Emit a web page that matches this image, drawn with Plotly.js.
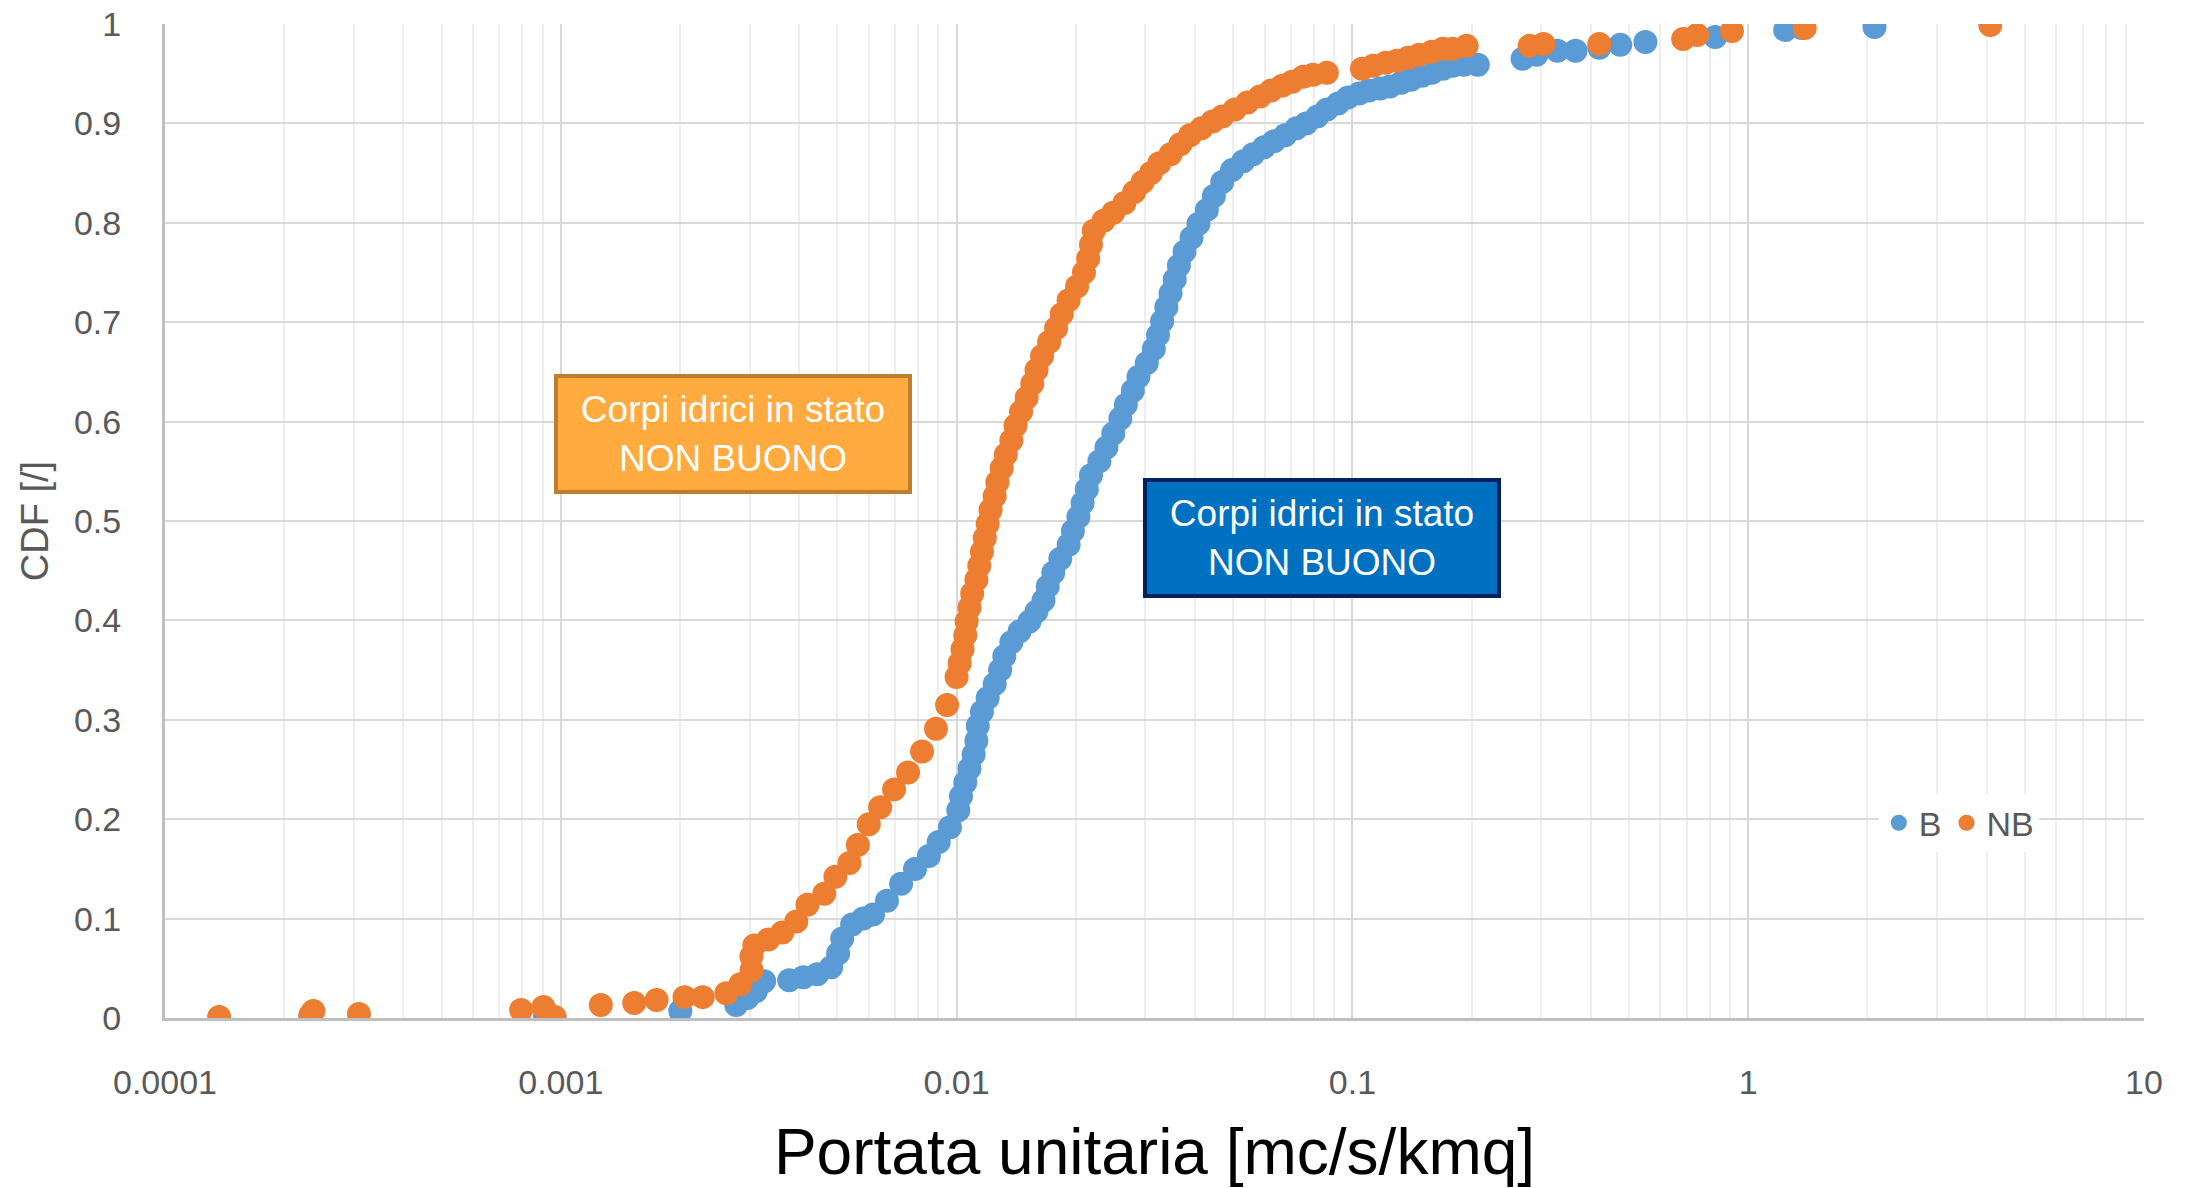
<!DOCTYPE html>
<html>
<head>
<meta charset="utf-8">
<script src="https://cdn.plot.ly/plotly-3.0.1.min.js"></script>
<style>
html,body{margin:0;padding:0;background:#fff;}
#chart{width:2190px;height:1188px;}
</style>
</head>
<body>
<div id="chart"></div>
<script>
// ---- Data ----
const seriesNames = ["B", "NB"];

// NB: "Corpi idrici in stato NON BUONO" (orange)
const nbX = [1.37e-4, 2.33e-4, 2.37e-4, 3.09e-4, 7.94e-4, 9.04e-4, 9.65e-4, 1.262e-3, 1.533e-3, 1.746e-3,
  2.054e-3, 2.283e-3, 2.62e-3, 2.843e-3, 3.034e-3, 3.03e-3, 3.083e-3, 3.344e-3, 3.628e-3, 3.935e-3,
  4.2e-3, 4.63e-3, 4.94e-3, 5.36e-3, 5.63e-3, 6.0e-3, 6.41e-3, 6.95e-3, 7.54e-3, 8.18e-3,
  8.87e-3, 9.46e-3, 1.0e-2, 1.018e-2, 1.035e-2, 1.052e-2, 1.06e-2, 1.078e-2, 1.095e-2, 1.122e-2,
  1.141e-2, 1.159e-2, 1.178e-2, 1.198e-2, 1.218e-2, 1.248e-2, 1.268e-2, 1.3e-2, 1.332e-2, 1.375e-2,
  1.409e-2, 1.455e-2, 1.503e-2, 1.553e-2, 1.592e-2, 1.644e-2, 1.713e-2, 1.784e-2, 1.843e-2, 1.919e-2,
  2.015e-2, 2.098e-2, 2.15e-2, 2.185e-2, 2.221e-2, 2.351e-2, 2.488e-2, 2.655e-2, 2.811e-2, 2.951e-2,
  3.098e-2, 3.253e-2, 3.472e-2, 3.676e-2, 3.89e-2, 4.152e-2, 4.43e-2, 4.69e-2, 5.045e-2, 5.43e-2,
  5.84e-2, 6.23e-2, 6.65e-2, 7.04e-2, 7.51e-2, 7.95e-2, 8.62e-2, 0.1057, 0.1128, 0.1213,
  0.1295, 0.1382, 0.1475, 0.1587, 0.1693, 0.1792, 0.1944, 0.2803, 0.3039, 0.4206,
  0.685, 0.743, 0.91, 1.389, 4.09];
const nbY = [0.001, 0.003, 0.007, 0.004, 0.008, 0.011, 0.001, 0.013, 0.015, 0.018,
  0.021, 0.021, 0.025, 0.034, 0.048, 0.062, 0.073, 0.079, 0.086, 0.097,
  0.114, 0.125, 0.142, 0.156, 0.174, 0.195, 0.212, 0.230, 0.247, 0.268,
  0.291, 0.315, 0.343, 0.357, 0.371, 0.385, 0.399, 0.413, 0.427, 0.441,
  0.455, 0.469, 0.483, 0.497, 0.511, 0.525, 0.539, 0.553, 0.567, 0.581,
  0.596, 0.610, 0.624, 0.638, 0.652, 0.666, 0.680, 0.694, 0.708, 0.722,
  0.736, 0.750, 0.764, 0.778, 0.792, 0.802, 0.810, 0.820, 0.831, 0.841,
  0.850, 0.860, 0.869, 0.879, 0.888, 0.895, 0.902, 0.907, 0.914, 0.921,
  0.927, 0.933, 0.938, 0.942, 0.947, 0.949, 0.951, 0.955, 0.958, 0.961,
  0.963, 0.966, 0.969, 0.972, 0.975, 0.975, 0.978, 0.978, 0.980, 0.980,
  0.985, 0.989, 0.993, 0.996, 0.999];

// B: blue series
const bX = [2.33e-4, 9.12e-4, 2.004e-3, 2.774e-3, 2.96e-3, 3.11e-3, 3.265e-3, 3.777e-3, 4.10e-3, 4.445e-3,
  4.82e-3, 5.02e-3, 5.14e-3, 5.445e-3, 5.81e-3, 6.15e-3, 6.67e-3, 7.24e-3, 7.85e-3, 8.51e-3,
  9.01e-3, 9.62e-3, 1.01e-2, 1.026e-2, 1.052e-2, 1.078e-2, 1.104e-2, 1.122e-2, 1.131e-2, 1.159e-2,
  1.198e-2, 1.248e-2, 1.288e-2, 1.32e-2, 1.375e-2, 1.443e-2, 1.528e-2, 1.592e-2, 1.658e-2, 1.699e-2,
  1.755e-2, 1.828e-2, 1.919e-2, 1.967e-2, 2.031e-2, 2.081e-2, 2.133e-2, 2.185e-2, 2.295e-2, 2.391e-2,
  2.488e-2, 2.592e-2, 2.677e-2, 2.788e-2, 2.88e-2, 3.024e-2, 3.149e-2, 3.227e-2, 3.306e-2, 3.388e-2,
  3.472e-2, 3.557e-2, 3.645e-2, 3.766e-2, 3.922e-2, 4.084e-2, 4.288e-2, 4.467e-2, 4.69e-2, 4.965e-2,
  5.30e-2, 5.61e-2, 5.98e-2, 6.335e-2, 6.76e-2, 7.215e-2, 7.64e-2, 8.15e-2, 8.62e-2, 9.2e-2,
  9.74e-2, 0.104, 0.110, 0.1175, 0.1243, 0.1327, 0.1405, 0.1499, 0.1587, 0.1693,
  0.1792, 0.1913, 0.2074, 0.2691, 0.2918, 0.3296, 0.3664, 0.4206, 0.4752, 0.55,
  0.8257, 1.24, 1.366, 2.085];
const bY = [0.001, 0.001, 0.007, 0.013, 0.020, 0.027, 0.037, 0.038, 0.041, 0.044,
  0.051, 0.065, 0.080, 0.094, 0.100, 0.104, 0.118, 0.135, 0.150, 0.163,
  0.177, 0.192, 0.209, 0.223, 0.237, 0.251, 0.265, 0.279, 0.294, 0.308,
  0.322, 0.336, 0.350, 0.364, 0.378, 0.389, 0.399, 0.409, 0.420, 0.434,
  0.448, 0.462, 0.476, 0.490, 0.504, 0.518, 0.532, 0.546, 0.560, 0.574,
  0.588, 0.603, 0.617, 0.631, 0.645, 0.659, 0.673, 0.687, 0.701, 0.715,
  0.729, 0.743, 0.757, 0.771, 0.785, 0.799, 0.813, 0.827, 0.841, 0.853,
  0.862, 0.869, 0.876, 0.882, 0.888, 0.895, 0.900, 0.907, 0.914, 0.920,
  0.926, 0.930, 0.933, 0.935, 0.937, 0.941, 0.944, 0.948, 0.951, 0.955,
  0.958, 0.959, 0.959, 0.965, 0.969, 0.973, 0.973, 0.976, 0.979, 0.982,
  0.987, 0.994, 0.996, 0.997];

const xTickVals = [0.0001, 0.001, 0.01, 0.1, 1, 10];
const xTickText = ["0.0001", "0.001", "0.01", "0.1", "1", "10"];
const xTitle = "Portata unitaria [mc/s/kmq]";
const yTitle = "CDF [/]";
const boxText = "Corpi idrici in stato<br>NON BUONO";

// minor gridline positions (2..9 within each decade)
const minorVals = [];
for (let e = -4; e < 1; e++) for (let m = 2; m <= 9; m++) minorVals.push(m * Math.pow(10, e));

const tickFont = {family: "Liberation Sans, Arial, sans-serif", size: 34, color: "#595959"};

const traces = [
  {x: bX, y: bY, name: seriesNames[0], type: "scatter", mode: "markers",
   marker: {color: "#5b9bd5", size: 24}},
  {x: nbX, y: nbY, name: seriesNames[1], type: "scatter", mode: "markers",
   marker: {color: "#ed7d31", size: 24}}
];

const layout = {
  width: 2190, height: 1188,
  margin: {l: 165, r: 46, t: 24, b: 170},
  paper_bgcolor: "#ffffff", plot_bgcolor: "#ffffff",
  showlegend: true,
  legend: {orientation: "h", x: 0.866, y: 0.196, xanchor: "left", yanchor: "middle",
    bgcolor: "#ffffff", font: tickFont, itemsizing: "trace", itemwidth: 30,
    tracegroupgap: 0},
  xaxis: {
    type: "log", range: [-4, 1],
    tickmode: "array", tickvals: xTickVals, ticktext: xTickText,
    tickfont: tickFont, ticks: "", ticklabelstandoff: 32,
    showgrid: true, gridcolor: "#d9d9d9", gridwidth: 2,
    minor: {tickmode: "array", tickvals: minorVals, showgrid: true, gridcolor: "#eeeeee", gridwidth: 2, ticks: ""},
    showline: true, linecolor: "#bfbfbf", linewidth: 3,
    zeroline: false, automargin: false,
    title: {text: xTitle, standoff: 38,
      font: {family: "Liberation Sans, Arial, sans-serif", size: 64, color: "#000000"}}
  },
  yaxis: {
    range: [0, 1], dtick: 0.1, tick0: 0,
    tickfont: tickFont, ticks: "", ticklabelstandoff: 34,
    showgrid: true, gridcolor: "#d9d9d9", gridwidth: 2,
    showline: true, linecolor: "#bfbfbf", linewidth: 3,
    zeroline: false, automargin: false,
    title: {text: yTitle, standoff: 14,
      font: {family: "Liberation Sans, Arial, sans-serif", size: 38, color: "#595959"}}
  },
  annotations: [
    {xref: "paper", yref: "paper", x: 0.287, y: 0.5875, xanchor: "center", yanchor: "middle",
     text: boxText, showarrow: false, align: "center",
     font: {family: "Liberation Sans, Arial, sans-serif", size: 37, color: "#ffffff"},
     bgcolor: "#ffab40", bordercolor: "#c07d2d", borderwidth: 4, borderpad: 0,
     width: 350, height: 112},
    {xref: "paper", yref: "paper", x: 0.5846, y: 0.4829, xanchor: "center", yanchor: "middle",
     text: boxText, showarrow: false, align: "center",
     font: {family: "Liberation Sans, Arial, sans-serif", size: 37, color: "#ffffff"},
     bgcolor: "#0070c0", bordercolor: "#002060", borderwidth: 4, borderpad: 0,
     width: 350, height: 112}
  ]
};

Plotly.newPlot("chart", traces, layout, {displayModeBar: false, staticPlot: true});
</script>
</body>
</html>
